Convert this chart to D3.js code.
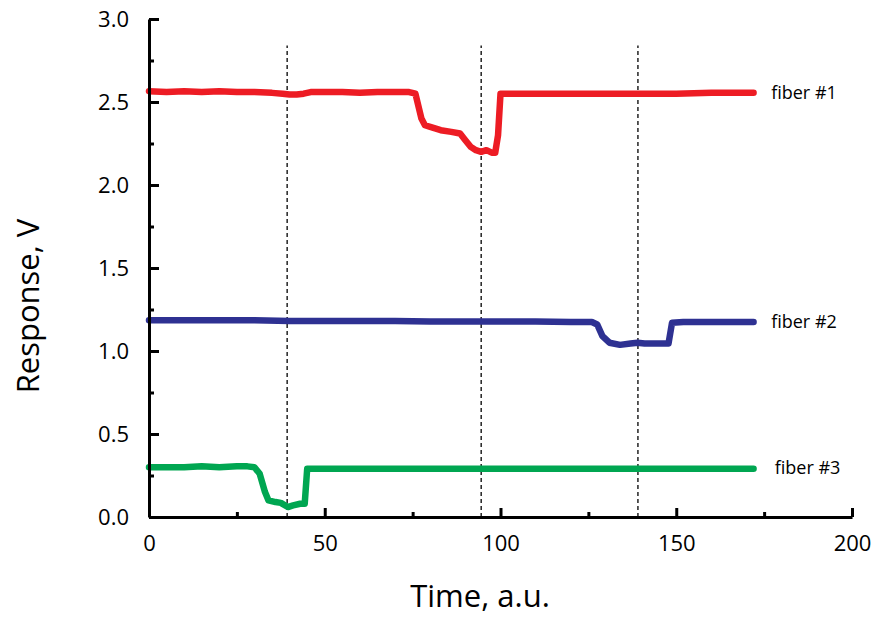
<!DOCTYPE html>
<html><head><meta charset="utf-8">
<script src="https://cdn.jsdelivr.net/npm/d3@7"></script>
<style>body{margin:0;background:#fff}svg{display:block}text{font-family:"Open Sans",sans-serif}</style>
</head><body>
<svg id="c" width="876" height="617"></svg>
<script>
const fiber1T = [0,5,10,15,20,25,30,35,38,40,42,44,46,50,55,60,65,70,74,75.8,77.5,78.5,80,83,86,88.5,90,91.5,93,94.5,96,97.5,98.5,99.3,100,103,110,120,130,140,150,160,172];
const fiber1V = [2.565,2.56,2.565,2.56,2.565,2.56,2.56,2.555,2.55,2.545,2.545,2.55,2.56,2.56,2.56,2.555,2.56,2.56,2.56,2.55,2.40,2.36,2.35,2.33,2.32,2.31,2.27,2.23,2.21,2.20,2.21,2.195,2.195,2.3,2.55,2.55,2.55,2.55,2.55,2.55,2.55,2.555,2.555];
const fiber2T = [0,10,20,30,40,50,60,70,80,90,100,110,120,126,127.5,129,131,134,137,139,141,145,147.8,148.8,152,160,172];
const fiber2V = [1.185,1.185,1.185,1.185,1.18,1.18,1.18,1.18,1.178,1.178,1.178,1.178,1.175,1.175,1.16,1.09,1.05,1.037,1.045,1.05,1.045,1.045,1.045,1.17,1.175,1.175,1.175];
const fiber3T = [0,5,10,15,20,25,28,30,31.5,33,34,36,37.5,39.5,41,43,44.3,45,50,60,70,80,90,100,110,120,130,140,150,160,172];
const fiber3V = [0.30,0.30,0.30,0.305,0.30,0.305,0.305,0.30,0.26,0.15,0.10,0.09,0.085,0.06,0.07,0.08,0.08,0.29,0.29,0.29,0.29,0.29,0.29,0.29,0.29,0.29,0.29,0.29,0.29,0.29,0.29];
const seriesNames = ["fiber #1","fiber #2","fiber #3"];
const seriesColors = ["#ED1C24","#2E3192","#00A651"];
const labelValues = [2.555,1.175,0.30];
const dashedTimes = [39.3,94.5,139.1];
const dashedTop = 2.84;
const xMajorTicks = [0,50,100,150,200];
const xMinorTicks = [25,75,125,175];
const yMajorTicks = [0,0.5,1,1.5,2,2.5,3];
const yMinorTicks = [0.25,0.75,1.25,1.75,2.25,2.75];

const svg = d3.select("#c");
const x = d3.scaleLinear().domain([0,200]).range([149,852]);
const y = d3.scaleLinear().domain([0,3]).range([517,19]);

svg.selectAll("line.dash").data(dashedTimes).join("line")
  .attr("x1",d=>x(d)).attr("x2",d=>x(d)).attr("y1",y(0)).attr("y2",y(dashedTop))
  .attr("stroke","#000").attr("stroke-width",1.3).attr("stroke-dasharray","4,3");

const series = [[fiber1T,fiber1V],[fiber2T,fiber2V],[fiber3T,fiber3V]];
const line = d3.line().x(d=>x(d[0])).y(d=>y(d[1]));
series.forEach((s,i)=>{
  const pts = s[0].map((t,j)=>[t,s[1][j]]);
  svg.append("path").datum(pts).attr("d",line).attr("fill","none")
    .attr("stroke",seriesColors[i]).attr("stroke-width",6.5)
    .attr("stroke-linejoin","round").attr("stroke-linecap","round");
  svg.append("text").attr("x",x(i===2?178:177)).attr("y",y(labelValues[i])).attr("dy","0.35em")
    .attr("font-size",18).attr("fill","#000").text(seriesNames[i]);
});

const gx = svg.append("g").attr("transform",`translate(0,${y(0)})`)
  .call(d3.axisBottom(x).tickValues(xMajorTicks).tickSizeInner(-9).tickSizeOuter(0).tickPadding(18).tickFormat(d3.format("d")));
svg.append("g").attr("transform",`translate(0,${y(0)})`)
  .call(d3.axisBottom(x).tickValues(xMinorTicks).tickSizeInner(-5).tickSizeOuter(0).tickFormat(""))
  .select(".domain").remove();
const gy = svg.append("g").attr("transform",`translate(${x(0)},0)`)
  .call(d3.axisLeft(y).tickValues(yMajorTicks).tickSizeInner(-10).tickSizeOuter(0).tickPadding(20).tickFormat(d3.format(".1f")));
svg.append("g").attr("transform",`translate(${x(0)},0)`)
  .call(d3.axisLeft(y).tickValues(yMinorTicks).tickSizeInner(-5).tickSizeOuter(0).tickFormat(""))
  .select(".domain").remove();
svg.selectAll(".domain").attr("stroke","#000").attr("stroke-width",3);
svg.selectAll(".tick line").attr("stroke","#000").attr("stroke-width",3);
gx.selectAll("text").attr("font-size",22).attr("font-family","'Open Sans',sans-serif").attr("fill","#000");
gy.selectAll("text").attr("font-size",22).attr("font-family","'Open Sans',sans-serif").attr("fill","#000");

svg.append("text").attr("x",480).attr("y",607).attr("text-anchor","middle")
  .attr("font-size",31).text("Time, a.u.");
svg.append("text").attr("transform","translate(39,306) rotate(-90)").attr("text-anchor","middle")
  .attr("font-size",31).text("Response, V");
</script>
</body></html>
